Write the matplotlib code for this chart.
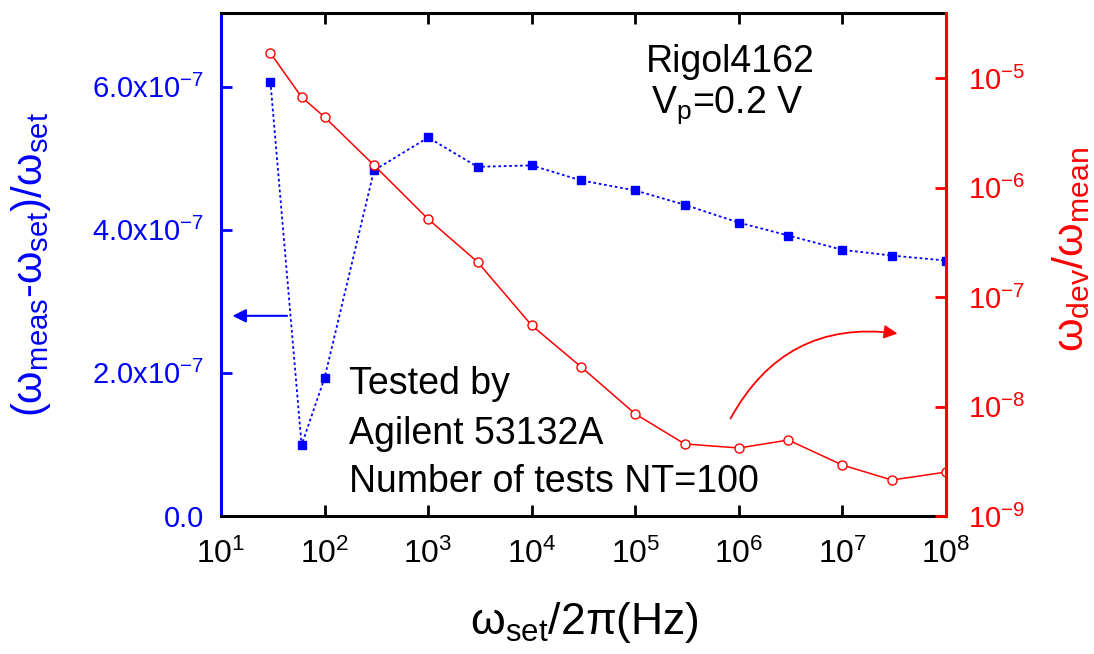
import math
import matplotlib
matplotlib.use("Agg")
import matplotlib.pyplot as plt
from matplotlib.ticker import FixedLocator, FuncFormatter, NullLocator

plt.rcParams['font.family'] = ['Liberation Sans', 'DejaVu Sans']
plt.rcParams['mathtext.fontset'] = 'custom'
plt.rcParams['mathtext.rm'] = 'Liberation Sans'
plt.rcParams['mathtext.it'] = 'Liberation Sans'
plt.rcParams['mathtext.default'] = 'regular'

# ---- data ----
freq = [30, 60, 100, 300, 1e3, 3e3, 1e4, 3e4, 1e5, 3e5, 1e6, 3e6, 1e7, 3e7, 1e8]
rel_offset = [6.07e-7, 0.99e-7, 1.93e-7, 4.83e-7, 5.29e-7, 4.88e-7, 4.90e-7,
              4.69e-7, 4.55e-7, 4.35e-7, 4.10e-7, 3.92e-7, 3.72e-7, 3.64e-7, 3.57e-7]
rel_dev = [1.69e-5, 6.7e-6, 4.4e-6, 1.6e-6, 5.15e-7, 2.09e-7, 5.5e-8,
           2.3e-8, 8.55e-9, 4.55e-9, 4.18e-9, 4.94e-9, 2.92e-9, 2.13e-9, 2.52e-9]
left_ticks = [0.0, 2e-7, 4e-7, 6e-7]
left_ticklabels = ['0.0', r'$2.0x10^{-7}$', r'$4.0x10^{-7}$', r'$6.0x10^{-7}$']
right_ticks = [1e-9, 1e-8, 1e-7, 1e-6, 1e-5]
x_ticks = [1e1, 1e2, 1e3, 1e4, 1e5, 1e6, 1e7, 1e8]

BLUE = '#0000ff'
RED = '#ff0000'

fig = plt.figure(figsize=(10.94, 6.54), dpi=100)
ax = fig.add_axes([221/1094, 1-516/654, 725/1094, 503/654])
ax2 = ax.twinx()

ax.set_xscale('log')
ax.set_xlim(10, 1e8)
ax.set_ylim(0, 7.03e-7)
ax2.set_yscale('log')
ax2.set_ylim(1e-9, 10**-4.406)

ax.plot(freq, rel_offset, linestyle=(0, (1.5, 1.5)), color=BLUE, lw=1.3,
        marker='s', ms=5.6, mfc=BLUE, mec=BLUE, clip_on=True)
ax2.plot(freq, rel_dev, '-', color=RED, lw=1.1,
         marker='o', ms=6.5, mfc='white', mec=RED, mew=1.0, clip_on=True)

def pow10(v, p):
    return r'$10^{%d}$' % round(math.log10(v))

# ticks
ax.xaxis.set_major_locator(FixedLocator(x_ticks))
ax.xaxis.set_minor_locator(NullLocator())
ax.xaxis.set_major_formatter(FuncFormatter(pow10))
ax.yaxis.set_major_locator(FixedLocator(left_ticks))
ax.set_yticklabels(left_ticklabels)
ax2.yaxis.set_major_locator(FixedLocator(right_ticks))
ax2.yaxis.set_minor_locator(NullLocator())
ax2.yaxis.set_major_formatter(FuncFormatter(pow10))

ax.tick_params(axis='x', which='both', direction='in', length=8, width=2.0,
               top=True, labelsize=23, pad=16, color='black', labelcolor='black')
ax.tick_params(axis='y', direction='in', length=8, width=2.0, labelsize=21,
               pad=12, color=BLUE, labelcolor=BLUE)
ax2.tick_params(axis='y', direction='in', length=8, width=2.0, labelsize=21,
                pad=16, color=RED, labelcolor=RED)

for s in ['top', 'bottom']:
    ax.spines[s].set_linewidth(2.2)
    ax.spines[s].set_color('black')
ax.spines['left'].set_linewidth(2.2)
ax.spines['left'].set_color(BLUE)
ax.spines['right'].set_visible(False)
for s in ['top', 'bottom', 'left']:
    ax2.spines[s].set_visible(False)
ax2.spines['right'].set_linewidth(2.2)
ax2.spines['right'].set_color(RED)

# labels
ax.set_xlabel(r'$ω_{set}$/2π(Hz)', fontsize=32, va='center', ha='center')
ax.xaxis.set_label_coords(0.502, -0.212)
ax.set_ylabel(r'$(ω_{meas}$-$ω_{set})$/$ω_{set}$', fontsize=30, color=BLUE,
              va='center', ha='center')
ax.yaxis.set_label_coords(-0.262, 0.50)
ax2.set_ylabel(r'$ω_{dev}$/$ω_{mean}$', fontsize=31, color=RED, rotation=90,
               va='center', ha='center')
ax2.yaxis.set_label_coords(1.172, 0.53)

# annotations
ax.text(0.702, 0.903, 'Rigol4162', transform=ax.transAxes, fontsize=27,
        ha='center', va='center')
ax.text(0.698, 0.817, r'$V_p$=0.2 V', transform=ax.transAxes, fontsize=27,
        ha='center', va='center')
for i, line in enumerate(['Tested by', 'Agilent 53132A', 'Number of tests NT=100']):
    ax.text(0.176, [0.262, 0.163, 0.067][i], line, transform=ax.transAxes,
            fontsize=27, ha='left', va='center')

ax.annotate('', xy=(0.012, 0.398), xytext=(0.095, 0.398), xycoords='axes fraction',
            arrowprops=dict(arrowstyle='-|>', color=BLUE, lw=1.5, mutation_scale=20))
ax.annotate('', xy=(0.937, 0.362), xytext=(0.701, 0.189), xycoords='axes fraction',
            arrowprops=dict(arrowstyle='-|>', color=RED, lw=1.3, mutation_scale=20,
                            connectionstyle='arc3,rad=-0.35'))

fig.savefig('out.png', dpi=100)
